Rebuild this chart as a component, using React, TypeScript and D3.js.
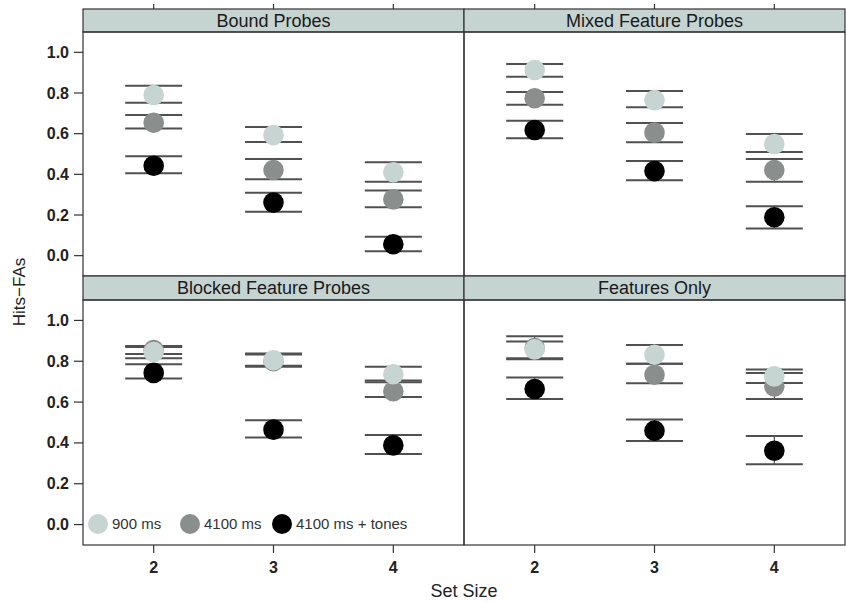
import { useEffect, useRef } from 'react';
import * as d3 from 'd3';

// categories
const setSizes = [ 2, 3, 4 ];
const panelTitles = [ 'Bound Probes', 'Mixed Feature Probes', 'Blocked Feature Probes', 'Features Only' ];
const seriesNames = [ '900 ms', '4100 ms', '4100 ms + tones' ];
const seriesColors = [ '#c6d4d2', '#8a8f8d', '#000000' ];
const yTicks = [ 0, 0.2, 0.4, 0.6, 0.8, 1.0 ];

// values per series (rows: 900 ms, 4100 ms, 4100 ms + tones; cols: set size 2,3,4)
const boundMean = [ [ 0.79, 0.593, 0.41 ], [ 0.654, 0.421, 0.277 ], [ 0.442, 0.261, 0.056 ] ];
const boundHigh = [ [ 0.836, 0.633, 0.459 ], [ 0.692, 0.475, 0.32 ], [ 0.489, 0.31, 0.093 ] ];
const boundLow = [ [ 0.752, 0.559, 0.364 ], [ 0.626, 0.376, 0.238 ], [ 0.405, 0.216, 0.022 ] ];

const mixedMean = [ [ 0.913, 0.765, 0.549 ], [ 0.774, 0.605, 0.421 ], [ 0.618, 0.416, 0.189 ] ];
const mixedHigh = [ [ 0.943, 0.81, 0.598 ], [ 0.805, 0.652, 0.475 ], [ 0.664, 0.466, 0.243 ] ];
const mixedLow = [ [ 0.88, 0.73, 0.51 ], [ 0.742, 0.558, 0.364 ], [ 0.577, 0.371, 0.133 ] ];

const blockedMean = [ [ 0.845, 0.805, 0.736 ], [ 0.855, 0.8, 0.653 ], [ 0.743, 0.465, 0.388 ] ];
const blockedHigh = [ [ 0.87, 0.838, 0.773 ], [ 0.875, 0.833, 0.706 ], [ 0.785, 0.511, 0.439 ] ];
const blockedLow = [ [ 0.815, 0.778, 0.697 ], [ 0.835, 0.773, 0.625 ], [ 0.715, 0.427, 0.346 ] ];

const featMean = [ [ 0.858, 0.832, 0.726 ], [ 0.865, 0.734, 0.677 ], [ 0.664, 0.46, 0.362 ] ];
const featHigh = [ [ 0.897, 0.879, 0.759 ], [ 0.922, 0.788, 0.742 ], [ 0.72, 0.515, 0.434 ] ];
const featLow = [ [ 0.815, 0.788, 0.694 ], [ 0.81, 0.692, 0.615 ], [ 0.615, 0.41, 0.295 ] ];

const panelMeans = [ boundMean, mixedMean, blockedMean, featMean ];
const panelHighs = [ boundHigh, mixedHigh, blockedHigh, featHigh ];
const panelLows = [ boundLow, mixedLow, blockedLow, featLow ];

const FONT = '"Liberation Sans", Arial, Helvetica, sans-serif';

export default function App() {
  const svgRef = useRef<SVGSVGElement>( null );

  useEffect( () => {
    if ( !svgRef.current ) return;
    const width = 846;
    const height = 603;

    const svg = d3.select( svgRef.current );
    svg.selectAll( '*' ).remove();
    svg.attr( 'width', width ).attr( 'height', height ).style( 'font-family', FONT );

    // frame geometry
    const left = 83, mid = 464, right = 845;
    const top = 9, stripH = 23, rowSplit = 276, bottom = 545;

    const cols = [ [ left, mid ], [ mid, right ] ];
    const rows = [ [ top, rowSplit ], [ rowSplit, bottom ] ];

    svg.append( 'rect' ).attr( 'width', width ).attr( 'height', height ).attr( 'fill', '#fff' );

    panelTitles.forEach( ( title, p ) => {
      const r = Math.floor( p / 2 );
      const c = p % 2;
      const [ x0, x1 ] = cols[ c ];
      const [ sy0, y1 ] = rows[ r ];
      const y0 = sy0 + stripH + ( r === 1 ? 1 : 0 );

      const x = d3.scaleLinear().domain( [ 1.41, 4.59 ] ).range( [ x0, x1 ] );
      const y = d3.scaleLinear().domain( [ -0.1, 1.1 ] ).range( [ y1, y0 ] );

      const g = svg.append( 'g' );

      // strip
      g.append( 'rect' )
        .attr( 'x', x0 ).attr( 'y', sy0 )
        .attr( 'width', x1 - x0 ).attr( 'height', y0 - sy0 )
        .attr( 'fill', '#c5d3d1' )
        .attr( 'stroke', '#333' ).attr( 'stroke-width', 1.2 );
      g.append( 'text' )
        .attr( 'x', ( x0 + x1 ) / 2 ).attr( 'y', sy0 + ( y0 - sy0 ) / 2 + 6 )
        .attr( 'text-anchor', 'middle' )
        .attr( 'font-size', 18 ).attr( 'fill', '#1a1a1a' )
        .text( title );

      // panel box
      g.append( 'rect' )
        .attr( 'x', x0 ).attr( 'y', y0 )
        .attr( 'width', x1 - x0 ).attr( 'height', y1 - y0 )
        .attr( 'fill', 'none' ).attr( 'stroke', '#333' ).attr( 'stroke-width', 1.2 );

      // y axis on left column
      if ( c === 0 ) {
        const ya = g.append( 'g' );
        yTicks.forEach( t => {
          ya.append( 'line' )
            .attr( 'x1', x0 - 9 ).attr( 'x2', x0 )
            .attr( 'y1', y( t ) ).attr( 'y2', y( t ) )
            .attr( 'stroke', '#333' ).attr( 'stroke-width', 1.2 );
          ya.append( 'text' )
            .attr( 'x', x0 - 14 ).attr( 'y', y( t ) + 5.5 )
            .attr( 'text-anchor', 'end' )
            .attr( 'font-size', 16 ).attr( 'font-weight', 'bold' ).attr( 'fill', '#222' )
            .text( d3.format( '.1f' )( t ) );
        } );
      }

      // top ticks for top row, bottom ticks + labels for bottom row
      setSizes.forEach( s => {
        if ( r === 0 ) {
          g.append( 'line' )
            .attr( 'x1', x( s ) ).attr( 'x2', x( s ) )
            .attr( 'y1', sy0 - 5 ).attr( 'y2', sy0 )
            .attr( 'stroke', '#333' ).attr( 'stroke-width', 1.2 );
        } else {
          g.append( 'line' )
            .attr( 'x1', x( s ) ).attr( 'x2', x( s ) )
            .attr( 'y1', y1 ).attr( 'y2', y1 + 8 )
            .attr( 'stroke', '#333' ).attr( 'stroke-width', 1.2 );
          g.append( 'text' )
            .attr( 'x', x( s ) ).attr( 'y', y1 + 28 )
            .attr( 'text-anchor', 'middle' )
            .attr( 'font-size', 16 ).attr( 'font-weight', 'bold' ).attr( 'fill', '#222' )
            .text( s );
        }
      } );

      const means = panelMeans[ p ];
      const highs = panelHighs[ p ];
      const lows = panelLows[ p ];
      const halfW = 28.5;

      // error bars behind points
      const bars = g.append( 'g' );
      [ 2, 1, 0 ].forEach( k => {
        setSizes.forEach( ( s, i ) => {
          const cx = x( s );
          bars.append( 'line' )
            .attr( 'x1', cx ).attr( 'x2', cx )
            .attr( 'y1', y( highs[ k ][ i ] ) ).attr( 'y2', y( lows[ k ][ i ] ) )
            .attr( 'stroke', '#333' ).attr( 'stroke-width', 1 );
          [ highs[ k ][ i ], lows[ k ][ i ] ].forEach( v => {
            bars.append( 'line' )
              .attr( 'x1', cx - halfW ).attr( 'x2', cx + halfW )
              .attr( 'y1', y( v ) ).attr( 'y2', y( v ) )
              .attr( 'stroke', '#505050' ).attr( 'stroke-width', 2 );
          } );
        } );
      } );

      // points: tones first, then 4100, then 900 on top
      const pts = g.append( 'g' );
      [ 2, 1, 0 ].forEach( k => {
        pts.selectAll( null )
          .data( setSizes.map( ( s, i ) => ( { s, v: means[ k ][ i ] } ) ) )
          .join( 'circle' )
          .attr( 'cx', d => x( d.s ) )
          .attr( 'cy', d => y( d.v ) )
          .attr( 'r', 10.3 )
          .attr( 'fill', seriesColors[ k ] );
      } );

      // legend inside the bottom-left panel
      if ( p === 2 ) {
        const legendX = [ 98, 190, 282 ];
        const ly = 524;
        seriesNames.forEach( ( name, k ) => {
          g.append( 'circle' )
            .attr( 'cx', legendX[ k ] ).attr( 'cy', ly ).attr( 'r', 10 )
            .attr( 'fill', seriesColors[ k ] );
          g.append( 'text' )
            .attr( 'x', legendX[ k ] + 14 ).attr( 'y', ly + 5 )
            .attr( 'font-size', 15 ).attr( 'fill', '#333' )
            .text( name );
        } );
      }
    } );

    // axis titles
    svg.append( 'text' )
      .attr( 'transform', `translate(25,${ ( top + bottom ) / 2 + 15 }) rotate(-90)` )
      .attr( 'text-anchor', 'middle' )
      .attr( 'font-size', 17 ).attr( 'fill', '#222' )
      .text( 'Hits\u2212FAs' );
    svg.append( 'text' )
      .attr( 'x', mid ).attr( 'y', 597 )
      .attr( 'text-anchor', 'middle' )
      .attr( 'font-size', 18 ).attr( 'fill', '#222' )
      .text( 'Set Size' );
  }, [] );

  return (
    <div style={ { position: 'absolute', left: 0, top: 0 } }>
      <svg ref={ svgRef } style={ { display: 'block' } } />
    </div>
  );
}
